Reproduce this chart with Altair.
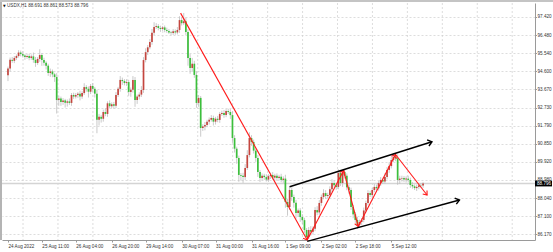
import math
import altair as alt
import pandas as pd

# ---------------- data ----------------
first_open = 94.40
closes = [
    94.75, 95.20, 95.15, 95.30, 95.40, 95.58, 95.50, 95.42, 95.35, 95.40,
    95.30, 95.38, 95.20, 95.04, 95.25, 95.45, 95.19, 95.05, 94.90, 94.52,
    94.60, 94.45, 94.31, 93.12, 93.20, 93.02, 93.10, 92.98, 93.05, 92.97,
    93.38, 93.30, 93.38, 93.45, 93.30, 93.48, 93.79, 93.70, 93.55, 93.85,
    93.70, 93.45, 92.10, 92.25, 92.15, 92.50, 92.40, 92.95, 92.80, 92.90,
    92.82, 93.38, 93.70, 94.16, 94.10, 94.00, 94.05, 93.54, 93.65, 94.16,
    93.12, 93.30, 93.40, 93.64, 95.19, 95.60, 95.85, 96.13, 96.60, 96.90,
    96.95, 96.85, 96.80, 96.88, 96.75, 96.70, 96.62, 96.59, 96.68, 96.62,
    96.75, 97.26, 97.10, 97.20, 96.64, 95.30, 94.78, 95.00, 94.42, 92.97,
    93.23, 91.67, 91.75, 91.83, 92.00, 92.10, 92.19, 92.00, 92.15, 92.09,
    92.40, 92.45, 92.35, 92.55, 92.50, 92.34, 91.15, 90.60, 90.12, 89.24,
    89.20, 89.13, 89.60, 90.27, 91.15, 90.95, 90.50, 90.12, 89.39, 89.08,
    89.20, 89.13, 89.00, 89.18, 89.24, 89.10, 89.20, 89.08, 89.15, 88.98,
    89.05, 87.84, 87.58, 88.46, 88.10, 87.80, 87.27, 87.40, 87.06, 86.90,
    86.39, 86.03, 86.39, 86.30, 86.45, 87.42, 87.30, 87.79, 88.10, 88.30,
    88.15, 88.20, 88.50, 88.82, 88.70, 88.62, 89.34, 88.82, 89.39, 89.20,
    88.60, 88.46, 87.58, 87.20, 86.91, 86.65, 86.80, 86.91, 87.40, 87.79,
    88.30, 88.20, 88.46, 88.62, 88.55, 88.82, 88.98, 88.90, 89.13, 89.50,
    89.70, 90.01, 90.17, 90.10, 88.98, 89.05, 89.08, 89.00, 89.05, 88.98,
    88.72, 88.65, 88.56, 88.62, 88.70, 88.691, 88.796,
]
upper_wick = [
    0.10, 0.12, 0.15, 0.10, 0.08, 0.12, 0.10, 0.15, 0.08, 0.10,
    0.12, 0.10, 0.20, 0.15, 0.10, 0.30, 0.10, 0.12, 0.08, 0.10,
    0.15, 0.10, 0.08, 0.20, 0.15, 0.10, 0.12, 0.08, 0.10, 0.15,
    0.10, 0.12, 0.10, 0.08, 0.15, 0.10, 0.20, 0.10, 0.12, 0.10,
    0.15, 0.10, 0.20, 0.15, 0.10, 0.12, 0.20, 0.10, 0.15, 0.10,
    0.12, 0.15, 0.10, 0.20, 0.12, 0.10, 0.15, 0.10, 0.12, 0.20,
    0.15, 0.10, 0.12, 0.20, 0.15, 0.20, 0.12, 0.15, 0.20, 0.25,
    0.15, 0.10, 0.12, 0.08, 0.10, 0.12, 0.10, 0.08, 0.12, 0.10,
    0.15, 0.20, 0.15, 0.43, 0.20, 0.15, 0.20, 0.30, 0.15, 0.20,
    0.15, 0.10, 0.12, 0.15, 0.10, 0.12, 0.15, 0.12, 0.10, 0.15,
    0.10, 0.12, 0.15, 0.10, 0.12, 0.15, 0.20, 0.15, 0.10, 0.12,
    0.10, 0.15, 0.20, 0.25, 0.30, 0.15, 0.12, 0.10, 0.15, 0.10,
    0.12, 0.10, 0.15, 0.10, 0.12, 0.15, 0.10, 0.12, 0.10, 0.15,
    0.12, 0.20, 0.15, 0.20, 0.15, 0.12, 0.15, 0.10, 0.12, 0.15,
    0.12, 0.10, 0.15, 0.20, 0.12, 0.15, 0.20, 0.15, 0.12, 0.20,
    0.15, 0.12, 0.15, 0.20, 0.15, 0.12, 0.20, 0.15, 0.11, 0.15,
    0.12, 0.15, 0.12, 0.10, 0.12, 0.15, 0.12, 0.10, 0.15, 0.12,
    0.15, 0.12, 0.10, 0.15, 0.12, 0.10, 0.15, 0.12, 0.20, 0.15,
    0.20, 0.15, 0.21, 0.15, 0.20, 0.15, 0.12, 0.10, 0.12, 0.15,
    0.12, 0.15, 0.10, 0.12, 0.10, 0.12, 0.065,
]
lower_wick = [
    0.30, 0.15, 0.10, 0.12, 0.10, 0.08, 0.12, 0.10, 0.15, 0.10,
    0.12, 0.10, 0.15, 0.20, 0.10, 0.15, 0.30, 0.15, 0.20, 0.15,
    0.20, 0.15, 0.25, 0.70, 0.30, 0.20, 0.15, 0.25, 0.20, 0.10,
    0.15, 0.12, 0.10, 0.15, 0.20, 0.12, 0.10, 0.15, 0.30, 0.12,
    0.15, 0.20, 0.70, 0.30, 0.20, 0.15, 0.12, 0.15, 0.10, 0.12,
    0.15, 0.12, 0.10, 0.15, 0.20, 0.12, 0.15, 0.20, 0.25, 0.15,
    0.35, 0.20, 0.15, 0.12, 0.15, 0.12, 0.15, 0.10, 0.15, 0.12,
    0.10, 0.12, 0.15, 0.10, 0.12, 0.10, 0.08, 0.12, 0.10, 0.12,
    0.10, 0.15, 0.12, 0.10, 0.15, 0.40, 0.30, 0.20, 0.15, 0.25,
    0.20, 0.45, 0.15, 0.20, 0.12, 0.15, 0.10, 0.20, 0.15, 0.12,
    0.15, 0.10, 0.15, 0.12, 0.10, 0.20, 0.25, 0.20, 0.30, 0.35,
    0.25, 0.30, 0.15, 0.10, 0.12, 0.20, 0.15, 0.20, 0.25, 0.20,
    0.12, 0.15, 0.10, 0.12, 0.15, 0.10, 0.12, 0.15, 0.10, 0.12,
    0.15, 0.30, 0.45, 0.15, 0.20, 0.25, 0.30, 0.20, 0.25, 0.20,
    0.15, 0.16, 0.10, 0.20, 0.15, 0.12, 0.15, 0.12, 0.15, 0.12,
    0.15, 0.12, 0.10, 0.15, 0.12, 0.15, 0.12, 0.15, 0.20, 0.15,
    0.15, 0.20, 0.15, 0.20, 0.15, 0.20, 0.12, 0.15, 0.12, 0.10,
    0.12, 0.10, 0.15, 0.12, 0.10, 0.12, 0.15, 0.12, 0.10, 0.12,
    0.15, 0.12, 0.10, 0.15, 0.25, 0.20, 0.15, 0.12, 0.15, 0.12,
    0.15, 0.12, 0.10, 0.15, 0.12, 0.10, 0.118,
]

# time-axis labels (bar index where each label starts)
time_label_bars = [0, 16, 32, 49, 65, 82, 98, 115, 131, 148, 164, 181]
time_labels = ["24 Aug 2022", "25 Aug 11:00", "26 Aug 04:00", "26 Aug 20:00",
               "29 Aug 14:00", "30 Aug 07:00", "31 Aug 00:00", "31 Aug 16:00",
               "1 Sep 09:00", "2 Sep 02:00", "2 Sep 18:00", "5 Sep 12:00"]
# vertical grid lines (bar index)
vgrid_bars = [7.1, 23.6, 40.1, 56.6, 73.1, 89.6, 106.1, 122.6, 139.1,
              155.6, 172.1, 188.6, 205.1, 221.6, 238.1]
# price-axis labels
price_ticks = [97.42, 96.48, 95.54, 94.60, 93.67, 92.73, 91.79,
               90.85, 89.92, 88.98, 88.04, 87.10, 86.17]
last_price = 88.796
title_text = "USDX,H1  88.691 88.861 88.573 88.796"

# drawn red zig-zag (bar index, price)
zig_x = [81.5, 141.3, 158.5, 165.4, 183.0, 197.9]
zig_y = [97.62, 85.87, 89.47, 86.57, 90.30, 88.20]
# drawn black channel lines: (x0, y0, x1, y1)
chan_upper = (133.0, 88.63, 200.2, 90.96)
chan_lower = (141.3, 85.80, 213.2, 87.94)

# ---------------- layout ----------------
W, H = 533, 237
XMIN, XMAX = -0.463, 246.5
YMIN, YMAX = 85.871, 98.145
sx = W / (XMAX - XMIN)
sy = H / (YMAX - YMIN)

opens = [first_open] + closes[:-1]
rows = []
for i, (o, c, uw, dw) in enumerate(zip(opens, closes, upper_wick, lower_wick)):
    rows.append(dict(i=i, open=o, close=c, high=max(o, c) + uw, low=min(o, c) - dw,
                     up=c >= o))
candles = pd.DataFrame(rows)

def heading(x0, y0, x1, y1):
    dx = (x1 - x0) * sx
    dy = -(y1 - y0) * sy
    return math.degrees(math.atan2(dx, -dy)) % 360

segs = []
for k in range(len(zig_x) - 1):
    segs.append(dict(x=zig_x[k], y=zig_y[k], x2=zig_x[k + 1], y2=zig_y[k + 1],
                     ang=heading(zig_x[k], zig_y[k], zig_x[k + 1], zig_y[k + 1]), kind="red"))
for (a, b, c, d) in (chan_upper, chan_lower):
    segs.append(dict(x=a, y=b, x2=c, y2=d, ang=heading(a, b, c, d), kind="black"))
segdf = pd.DataFrame(segs)

xscale = alt.Scale(domain=[XMIN, XMAX], nice=False, zero=False)
yscale = alt.Scale(domain=[YMIN, YMAX], nice=False, zero=False)

label_expr = ""
for b, t in zip(time_label_bars, time_labels):
    label_expr += f"datum.value == {b} ? '{t}' : "
label_expr += "''"

FONT = "Liberation Sans"
FS = 4.6

XAXIS = alt.Axis(values=time_label_bars, labelExpr=label_expr, title=None,
                 grid=False, labelAlign="left", labelFontSize=FS,
                 labelFont=FONT, labelColor="#333333", tickSize=2,
                 tickColor="#999999", domainColor="#9a9a9a", labelPadding=1,
                 labelOverlap=False, labelFlush=False)
YAXIS = alt.Axis(orient="right", values=price_ticks, format=".3f", grid=True, title=None,
                 gridColor="#cfcfcf", gridDash=[2, 2], gridWidth=0.7,
                 labelFontSize=FS, labelFont=FONT, labelColor="#333333",
                 tickSize=1.5, tickColor="#999999", domainColor="#9a9a9a",
                 labelPadding=0.5, labelOverlap=False,
                 labelFlush=False, labelBaseline="middle")

def X(f):
    return alt.X(f, scale=xscale, axis=XAXIS)

def Y(f):
    return alt.Y(f, scale=yscale, axis=YAXIS)

# vertical grid
vgrid = alt.Chart(pd.DataFrame({"g": vgrid_bars})).mark_rule(
    color="#cfcfcf", strokeDash=[2, 2], strokeWidth=0.7
).encode(x=X("g:Q"))

wicks = alt.Chart(candles).mark_rule(color="#bdbdbd", strokeWidth=0.8).encode(
    x=X("i:Q"), y=Y("low:Q"), y2="high:Q")

price_line = alt.Chart(pd.DataFrame({"p": [last_price]})).mark_rule(
    color="#d4d4d4", strokeWidth=1.6
).encode(y=Y("p:Q"))

bodies = alt.Chart(candles).mark_bar(size=1.7).encode(
    x=X("i:Q"), y=Y("open:Q"), y2="close:Q",
    color=alt.condition("datum.up", alt.value("#c4463f"), alt.value("#3cbf3c")),
)

red = segdf[segdf.kind == "red"]
black = segdf[segdf.kind == "black"]

red_lines = alt.Chart(red).mark_rule(color="#ff1a1a", strokeWidth=1.1).encode(
    x=X("x:Q"), y=Y("y:Q"), x2="x2:Q", y2="y2:Q")
red_heads = alt.Chart(red).mark_point(
    shape="M-1,1.3L0,0L1,1.3", filled=False, color="#ff1a1a", strokeWidth=1.1,
    size=30, opacity=1
).encode(x=X("x2:Q"), y=Y("y2:Q"), angle=alt.Angle("ang:Q", scale=None))
black_lines = alt.Chart(black).mark_rule(color="#000000", strokeWidth=1.4).encode(
    x=X("x:Q"), y=Y("y:Q"), x2="x2:Q", y2="y2:Q")
black_heads = alt.Chart(black).mark_point(
    shape="M-1,1.3L0,0L1,1.3", filled=False, color="#000000", strokeWidth=1.4,
    size=40, opacity=1
).encode(x=X("x2:Q"), y=Y("y2:Q"), angle=alt.Angle("ang:Q", scale=None))

tag_df = pd.DataFrame({"p": [last_price], "lo": [last_price - 0.15],
                       "hi": [last_price + 0.15], "t": [f"{last_price:.3f}"]})
tag_box = alt.Chart(tag_df).mark_rect(color="#000000").encode(
    x=alt.value(W), x2=alt.value(W + 17), y=Y("lo:Q"), y2="hi:Q")
tag_text = alt.Chart(tag_df).mark_text(
    align="left", baseline="middle", color="#ffffff", fontSize=FS, font=FONT
).encode(x=alt.value(W + 2), y=Y("p:Q"), text="t:N")

title_df = pd.DataFrame({"t": [title_text], "icon": ["\u25bc"]})
title = alt.Chart(title_df).mark_text(
    align="left", baseline="middle", color="#333333", fontSize=FS, font=FONT
).encode(x=alt.value(5), y=alt.value(3), text="t:N")
icon = alt.Chart(title_df).mark_text(
    align="left", baseline="middle", color="#111111", fontSize=3.5, font="DejaVu Sans"
).encode(x=alt.value(1), y=alt.value(3), text="icon:N")

frame_df = pd.DataFrame({"a": [0]})
left_strip = alt.Chart(frame_df).mark_rect(color="#b4b4b4").encode(
    x=alt.value(-2), x2=alt.value(0), y=alt.value(-3), y2=alt.value(H))
top_strip = alt.Chart(frame_df).mark_rect(color="#c4c4c4").encode(
    x=alt.value(-2), x2=alt.value(W + 18), y=alt.value(-3), y2=alt.value(-1))

chart = alt.layer(
    vgrid, price_line, wicks, bodies, red_lines, red_heads, black_lines,
    black_heads, tag_box, tag_text, title, icon, left_strip, top_strip
).properties(
    width=W, height=H,
    padding={"left": 2, "top": 3, "right": 18, "bottom": 12},
    autosize=alt.AutoSizeParams(type="none"),
    background="#ffffff",
).configure_view(stroke=None)

chart.save("out.html", embed_options={"renderer": "svg", "actions": False})
